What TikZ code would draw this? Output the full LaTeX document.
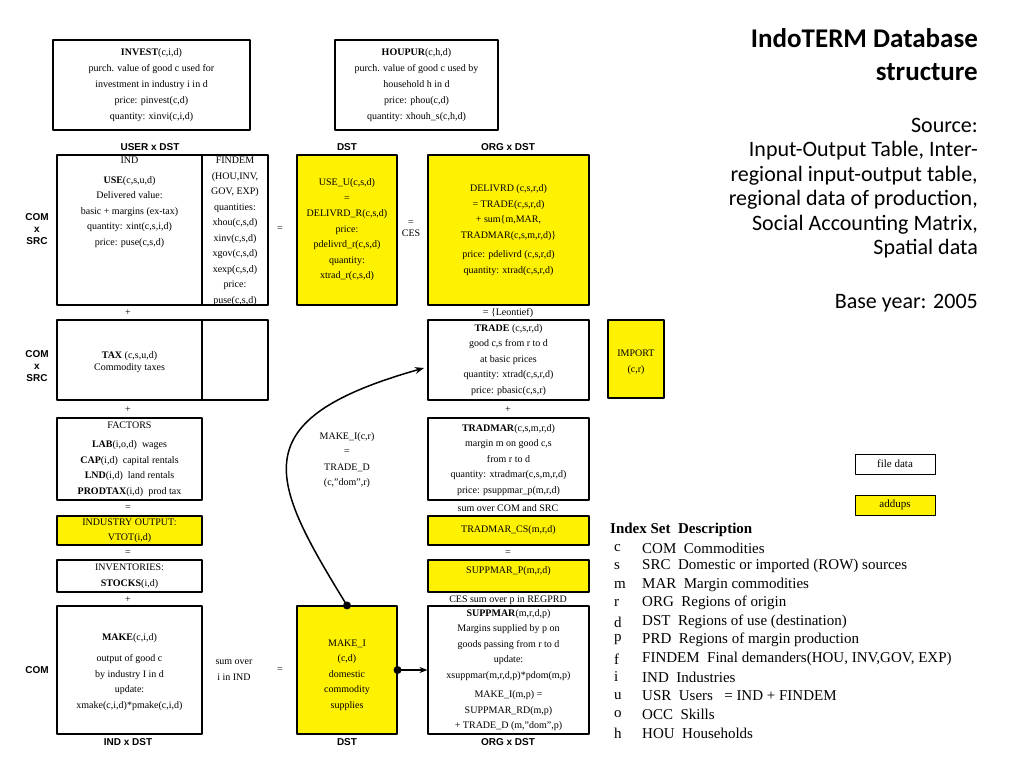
\documentclass[tikz,border=0pt]{standalone}
\usepackage{fontspec}
\setmainfont{Liberation Serif}
\setsansfont{Liberation Sans}
\newfontfamily\titlefont{Carlito}
\usetikzlibrary{arrows.meta}
\begin{document}
\begin{tikzpicture}[x=1pt, y=-1pt, line cap=round, line join=round,
    box/.style={draw, line width=1.1pt, inner sep=0pt},
    ybox/.style={box, fill=yellow},
    txt/.style={align=center, inner sep=0pt, font=\fontsize{10}{15.5}\selectfont},
    hdr/.style={inner sep=0pt, font=\sffamily\bfseries\fontsize{10}{12}\selectfont, align=center},
    idx/.style={anchor=west, inner sep=0pt, font=\fontsize{15}{18}\selectfont},
    side/.style={anchor=east, inner sep=0pt, font=\titlefont\fontsize{22}{24.5}\selectfont, align=right}]
  \useasboundingbox (0,0) rectangle (1024,768);
  % top boxes
  \node[box, minimum width=197, minimum height=90] (invest) at (151.5,85) {};
  \node[txt, font=\fontsize{10}{16}\selectfont] (investtxt) at (invest) {\textbf{INVEST}(c,i,d)\\purch. value of good c used for\\investment in industry i in d\\price: pinvest(c,d)\\quantity: xinvi(c,i,d)};
  \node[box, minimum width=163, minimum height=90] (houpur) at (416.5,85) {};
  \node[txt, font=\fontsize{10}{16}\selectfont] (houpurtxt) at (houpur) {\textbf{HOUPUR}(c,h,d)\\purch. value of good c used by\\household h in d\\price: phou(c,d)\\quantity: xhouh\_s(c,h,d)};
  % column headers
  \node[hdr] (h1) at (150,147) {USER x DST};
  \node[hdr] (h2) at (347,147) {DST};
  \node[hdr] (h3) at (508,147) {ORG x DST};
  \node[hdr] (f1) at (128,742) {IND x DST};
  \node[hdr] (f2) at (347,742) {DST};
  \node[hdr] (f3) at (508,742) {ORG x DST};
  \node[hdr] (r1) at (37,229) {COM\\x\\SRC};
  \node[hdr] (r2) at (37,366) {COM\\x\\SRC};
  \node[hdr] (r3) at (37,670) {COM};
  % first row
  \node[box, minimum width=145, minimum height=150] (use) at (129.5,230) {};
  \node[box, minimum width=66, minimum height=150] (findem) at (235,230) {};
  \node[txt, anchor=north] (usetxt) at (129.5,157) {IND\\[4pt]\textbf{USE}(c,s,u,d)\\Delivered value:\\basic + margins (ex-tax)\\quantity: xint(c,s,i,d)\\price: puse(c,s,d)};
  \node[txt, anchor=north] (findemtxt) at (235,157) {FINDEM\\(HOU,INV,\\GOV, EXP)\\quantities:\\xhou(c,s,d)\\xinv(c,s,d)\\xgov(c,s,d)\\xexp(c,s,d)\\price:\\puse(c,s,d)};
  \node[ybox, minimum width=100, minimum height=150] (useu) at (347,230) {};
  \node[txt] (useutxt) at (347,230) {USE\_U(c,s,d)\\=\\DELIVRD\_R(c,s,d)\\price:\\pdelivrd\_r(c,s,d)\\quantity:\\xtrad\_r(c,s,d)};
  \node[ybox, minimum width=161, minimum height=150] (delivrd) at (508.5,230) {};
  \node[txt] (delivrdtxt) at (508.5,230) {DELIVRD (c,s,r,d)\\= TRADE(c,s,r,d)\\+ sum\{m,MAR,\\TRADMAR(c,s,m,r,d)\}\\[4pt]price: pdelivrd (c,s,r,d)\\quantity: xtrad(c,s,r,d)};
  \node[txt] (eq1) at (280,229) {=};
  \node[txt] (eq2) at (411,229) {=\\[-5pt]CES};
  \node[txt] (p1) at (128,313) {+};
  \node[txt] (leon) at (508,313) {= \{Leontief)};
  % second row
  \node[box, minimum width=145, minimum height=80] (tax) at (129.5,360) {};
  \node[box, minimum width=66, minimum height=80] (taxfd) at (235,360) {};
  \node[txt] (taxtxt) at (129.5,362) {\textbf{TAX} (c,s,u,d)\\[-3pt]Commodity taxes};
  \node[box, minimum width=161, minimum height=80] (trade) at (508.5,360) {};
  \node[txt] (tradetxt) at (508.5,360) {\textbf{TRADE} (c,s,r,d)\\good c,s from r to d\\at basic prices\\quantity: xtrad(c,s,r,d)\\price: pbasic(c,s,r)};
  \node[ybox, minimum width=56, minimum height=78] (import) at (636,359) {};
  \node[txt] (importtxt) at (636,362) {IMPORT\\(c,r)};
  \node[txt] (p2) at (128,410) {+};
  \node[txt] (p3) at (508,410) {+};
  % third row
  \node[box, minimum width=145, minimum height=82] (factors) at (129.5,459) {};
  \node[txt] (factorstxt) at (129.5,459) {FACTORS\\[4pt]\textbf{LAB}(i,o,d)\ \ wages\\\textbf{CAP}(i,d)\ \ capital rentals\\\textbf{LND}(i,d)\ \ land rentals\\\textbf{PRODTAX}(i,d)\ \ prod tax};
  \node[box, minimum width=161, minimum height=82] (tradmar) at (508.5,459) {};
  \node[txt] (tradmartxt) at (508.5,460) {\textbf{TRADMAR}(c,s,m,r,d)\\margin m on good c,s\\from r to d\\quantity: xtradmar(c,s,m,r,d)\\price: psuppmar\_p(m,r,d)};
  \node[txt] (maketxt) at (347,460) {MAKE\_I(c,r)\\=\\TRADE\_D\\(c,"dom",r)};
  \node[txt] (e3) at (128,508) {=};
  \node[txt] (sumcs) at (508,508) {sum over COM and SRC};
  % fourth and fifth rows
  \node[ybox, minimum width=145, minimum height=29] (vtot) at (129.5,530.5) {};
  \node[txt] (vtottxt) at (129.5,530.5) {INDUSTRY OUTPUT:\\VTOT(i,d)};
  \node[ybox, minimum width=161, minimum height=29] (tradmarcs) at (508.5,530.5) {};
  \node[txt] (tradmarcstxt) at (508.5,530.5) {TRADMAR\_CS(m,r,d)};
  \node[txt] (e4) at (128,553) {=};
  \node[txt] (e5) at (508,553) {=};
  \node[box, minimum width=145, minimum height=32] (stocks) at (129.5,576) {};
  \node[txt] (stockstxt) at (129.5,576) {INVENTORIES:\\\textbf{STOCKS}(i,d)};
  \node[ybox, minimum width=161, minimum height=32] (suppmarp) at (508.5,576) {};
  \node[txt] (suppmarptxt) at (508.5,571) {SUPPMAR\_P(m,r,d)};
  \node[txt] (p4) at (128,600) {+};
  \node[txt] (cessum) at (508,600) {CES sum over p in REGPRD};
  % bottom row
  \node[box, minimum width=145, minimum height=128] (make) at (129.5,670) {};
  \node[txt] (maketxt2) at (129.5,672) {\textbf{MAKE}(c,i,d)\\[6pt]output of good c\\by industry I in d\\update:\\xmake(c,i,d)*pmake(c,i,d)};
  \node[txt] (sumind) at (234,670) {sum over\\i in IND};
  \node[txt] (e6) at (280,670) {=};
  \node[ybox, minimum width=100, minimum height=128] (makei) at (347,670) {};
  \node[txt] (makeitxt) at (347,675) {MAKE\_I\\(c,d)\\domestic\\commodity\\supplies};
  \node[box, minimum width=161, minimum height=128] (suppmar) at (508.5,670) {};
  \node[txt] (suppmartxt) at (508.5,670) {\textbf{SUPPMAR}(m,r,d,p)\\Margins supplied by p on\\goods passing from r to d\\update:\\xsuppmar(m,r,d,p)*pdom(m,p)\\[4pt]MAKE\_I(m,p) =\\SUPPMAR\_RD(m,p)\\+ TRADE\_D (m,"dom",p)};
  % connectors
  \coordinate (tradein) at (424,368);
  \draw[line width=1.5pt, -{Stealth[length=9pt]}] (makei.north) .. controls (270,480) and (240,420) .. (tradein);
  \fill (makei.north) circle (4pt);
  \draw[line width=1.5pt, -{Stealth[length=8pt]}] (makei.east) -- (suppmar.west);
  \fill (makei.east) circle (4pt);
  % legend
  \node[box, line width=0.8pt, minimum width=80, minimum height=20, font=\fontsize{11}{13}\selectfont] (filedata) at (895,464) {file data};
  \node[ybox, line width=0.8pt, minimum width=80, minimum height=20, font=\fontsize{11}{13}\selectfont] (addups) at (895,505) {addups};
  % title
  \node[side, font=\titlefont\bfseries\fontsize{27}{33}\selectfont, anchor=north east] (title) at (978,28) {IndoTERM Database\\structure};
  \node[side, anchor=north east] (source) at (978,118) {Source:\\Input-Output Table, Inter-\\regional input-output table,\\regional data of production,\\Social Accounting Matrix,\\Spatial data};
  \node[side] (base) at (978,303) {Base year: 2005};
  % index set
  \node[idx, font=\bfseries\fontsize{15}{18}\selectfont] (ih) at (610,530) {Index Set\ \ Description};
  \foreach \y/\l/\c/\d in {548/c/COM/Commodities, 566/s/SRC/Domestic or imported (ROW) sources,
      585/m/MAR/Margin commodities, 603/r/ORG/Regions of origin, 622/d/DST/Regions of use (destination),
      640/p/PRD/Regions of margin production, 659/f/FINDEM/{Final demanders(HOU, INV,GOV, EXP)},
      677/i/IND/Industries, 696/u/USR/{Users\ \ \ = IND + FINDEM}, 714/o/OCC/Skills, 733/h/HOU/Households} {
    \node[idx] at (614,\y) {\l};
    \node[idx] at (642,\y) {\c\ \ \d};
  }
\end{tikzpicture}
\end{document}
